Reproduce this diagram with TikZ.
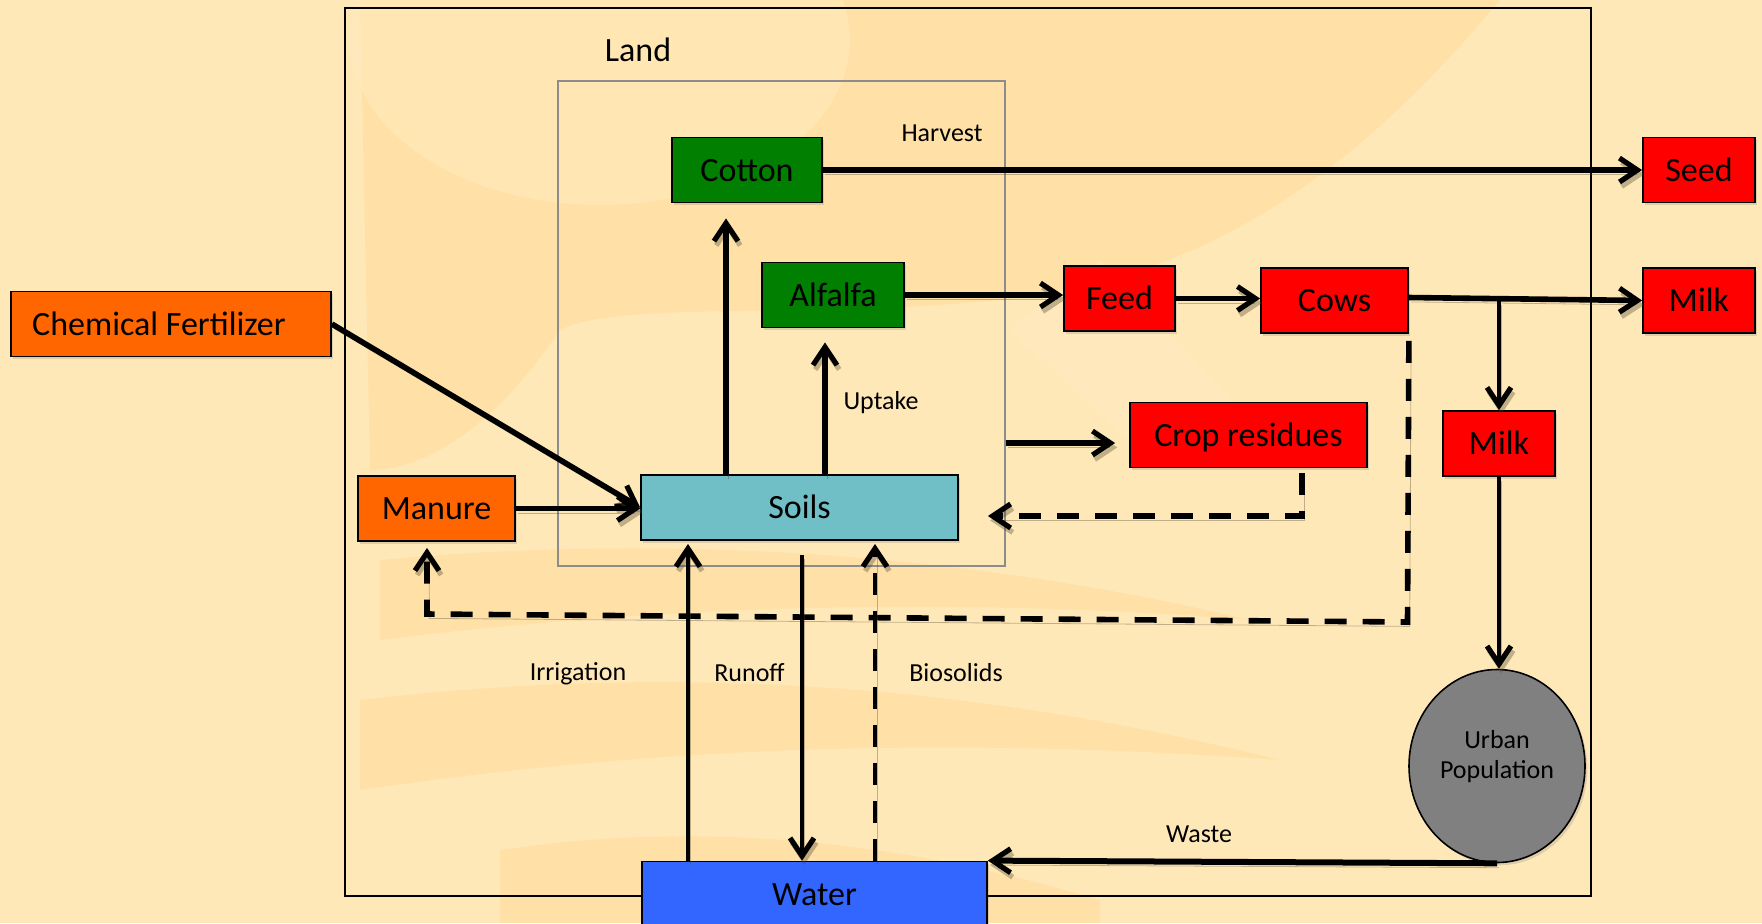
\documentclass[tikz,border=0pt]{standalone}
\usepackage{fontspec}
\setmainfont{Carlito}
\usetikzlibrary{arrows.meta,shapes.geometric,shadows}

\definecolor{bgcream}{HTML}{FFE8B8}
\definecolor{bglight}{HTML}{FFEBC0}
\definecolor{bgblob}{HTML}{FFDC98}
\definecolor{cropgreen}{HTML}{007F00}
\definecolor{prodred}{HTML}{FF0000}
\definecolor{inputorange}{HTML}{FF6600}
\definecolor{soilteal}{HTML}{70BEC6}
\definecolor{waterblue}{HTML}{3366FF}
\definecolor{urbangray}{HTML}{808080}

\begin{document}
\begin{tikzpicture}[x=0.5pt,y=-0.5pt,
  box/.style={draw=black, line width=0.9pt, rectangle, minimum height=32.5pt,
    inner sep=0pt, text height=11pt, text depth=0pt,
    font=\fontsize{17}{20}\selectfont,
    drop shadow={opacity=0.25, shadow xshift=1.2pt, shadow yshift=-1.4pt}},
  crop/.style={box, fill=cropgreen},
  product/.style={box, fill=prodred},
  input/.style={box, fill=inputorange},
  smalltext/.style={font=\fontsize{13}{15}\selectfont, inner sep=0pt, anchor=base},
  flow/.style={line width=2.8pt, -{Straight Barb[length=9pt,width=12pt,line width=2.6pt]},
    preaction={draw=black!70!bgblob, opacity=0.35, transform canvas={shift={(1.1pt,-2.2pt)}}}},
  thinflow/.style={flow, line width=2.2pt},
  dashflow/.style={flow, dash pattern=on 11pt off 8pt},
]

% background with faint watermark shapes
\clip (0,0) rectangle (1762,923);
\fill[bgcream] (0,0) rectangle (1762,923);
\begin{scope}[opacity=0.5]
  \fill[bgblob] (360,0) -- (1500,0) .. controls (1350,180) and (1200,280) .. (1000,300)
    .. controls (800,320) and (620,300) .. (560,330)
    .. controls (500,420) and (430,470) .. (370,470) -- cycle;
  \fill[bglight] (600,40) ellipse [x radius=250, y radius=165];
  \fill[bglight] (1010,330) -- (1100,260) -- (1250,420) -- (1150,460) -- cycle;
  \fill[bgblob] (380,560) .. controls (700,530) and (1000,560) .. (1250,620)
    .. controls (1000,600) and (700,600) .. (380,640) -- cycle;
  \fill[bgblob] (360,700) .. controls (700,660) and (1000,690) .. (1280,760)
    .. controls (1000,740) and (700,740) .. (360,790) -- cycle;
  \fill[bgblob] (500,850) .. controls (700,820) and (900,840) .. (1100,900)
    -- (1100,923) -- (500,923) -- cycle;
\end{scope}

% frames
\node[draw=black, line width=1.3pt, minimum width=623pt, minimum height=444pt, inner sep=0pt]
  (land) at (968,452) {};
\node[font=\fontsize{17}{20}\selectfont, anchor=base, inner sep=0pt] (landlabel) at (638,61) {Land};
\node[draw=black!45, line width=0.7pt, minimum width=223.5pt, minimum height=242.5pt, inner sep=0pt]
  (field) at (781.5,323.5) {};

% boxes
\node[input, minimum width=160pt] (fert) at (171,324) {Chemical Fertilizer\hspace*{12pt}};
\node[input, minimum width=78.5pt] (manure) at (436.5,508.5) {Manure};
\node[box, fill=soilteal, minimum width=158.5pt] (soils) at (799.5,507.5) {Soils};
\node[crop, minimum width=75pt] (cotton) at (747,170) {Cotton};
\node[crop, minimum width=71pt] (alfalfa) at (833,295) {Alfalfa};
\node[product, minimum width=55.5pt] (feed) at (1119.5,298.5) {Feed};
\node[product, minimum width=73.5pt] (cows) at (1334.5,300.5) {Cows};
\node[product, minimum width=56pt] (seed) at (1699,170) {Seed};
\node[product, minimum width=56pt] (milkr) at (1699,300.5) {Milk};
\node[product, minimum width=56pt] (milkd) at (1499,443.5) {Milk};
\node[product, minimum width=118.5pt] (residues) at (1248.5,435) {Crop residues};
\node[box, fill=waterblue, minimum width=172.5pt] (water) at (814.5,894) {Water};
\node[ellipse, draw=black, line width=0.8pt, fill=urbangray, minimum width=88pt,
  minimum height=96.5pt, inner sep=0pt,
  drop shadow={opacity=0.25, shadow xshift=1.2pt, shadow yshift=-1.4pt}] (urban) at (1497,766) {};
\node[font=\fontsize{13}{15}\selectfont, align=center, inner sep=0pt] (urbanlabel) at (1497,757)
  {Urban\\Population};

% helper coordinates for vertical flows and bends
\coordinate (xcotton) at (726,0);
\coordinate (xalfalfa) at (825,0);
\coordinate (xirr) at (688,0);
\coordinate (xrun) at (802,0);
\coordinate (xbio) at (875,0);
\coordinate (yres) at (0,443);
\coordinate (resbend) at (1302,516);
\coordinate (cowsbend) at (1407.5,622);
\coordinate (manurebend) at (427,614);

% harvest and livestock flows
\draw[flow] (cotton) -- (seed);
\node[smalltext] (harvest) at (942,141) {Harvest};
\draw[flow] (alfalfa.east) -- (alfalfa.east -| feed.west);
\draw[flow] (feed.east) -- (feed.east -| cows.west);
\draw[flow] ([yshift=1.5pt]cows.east) -- (milkr.west);
\draw[thinflow] (milkd.north |- cows.east) -- (milkd.north);
\draw[thinflow] (milkd.south) -- (milkd.south |- urban.north);
\draw[flow, line width=3pt] (urban.south) -- (water.north east);
\node[smalltext] (waste) at (1199,842) {Waste};

% soil uptake
\draw[flow, shorten >=7.5pt] (soils.north -| xcotton) -- (cotton.south -| xcotton);
\draw[flow, shorten >=7pt] (soils.north -| xalfalfa) -- (alfalfa.south -| xalfalfa);
\node[smalltext] (uptake) at (881,409) {Uptake};

% inputs to soils
\draw[flow] (fert.east) -- (soils.west);
\draw[flow] (manure.east) -- (manure.east -| soils.west);

% residues and manure recycling
\draw[flow, shorten >=7pt] (field.east |- yres) -- (residues.west |- yres);
\draw[dashflow, shorten <=2.5pt, shorten >=14.5pt] (residues.south -| resbend) -- (resbend) -- (soils.east |- resbend);
\draw[dashflow, shorten <=3.5pt, shorten >=3pt] (cows.south east) -- (cowsbend) -- (manurebend) -- (manure.south -| manurebend);

% water exchanges
\draw[thinflow, shorten >=1.5pt] (water.north -| xirr) -- (soils.south -| xirr);
\draw[thinflow, shorten <=7pt] (soils.south -| xrun) -- (water.north -| xrun);
\draw[dashflow, line width=2.4pt, shorten >=1.5pt] (water.north -| xbio) -- (soils.south -| xbio);
\node[smalltext] (irrigation) at (578,680) {Irrigation};
\node[smalltext] (runoff) at (749.5,681) {Runoff};
\node[smalltext] (biosolids) at (956,681) {Biosolids};
\end{tikzpicture}
\end{document}
